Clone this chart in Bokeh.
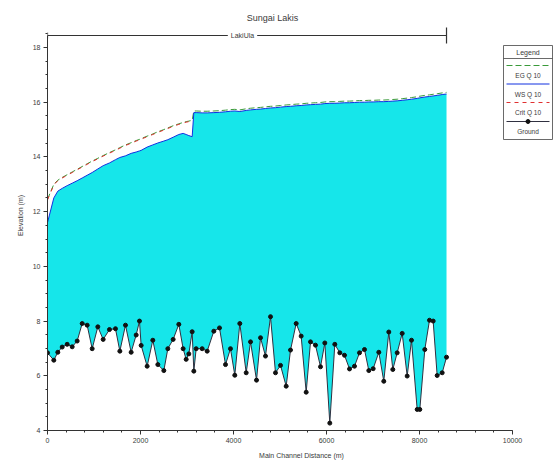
import math
from bokeh.plotting import figure
from bokeh.models import Range1d, Label, FixedTicker
from bokeh.embed import file_html
from bokeh.resources import INLINE

# ---------------- data ----------------
title_text = "Sungai Lakis"
reach_name = "LakiUla"
x_label = "Main Channel Distance (m)"
y_label = "Elevation (m)"
legend_labels = ["EG Q 10", "WS Q 10", "Crit Q 10", "Ground"]

x_ticks = [0, 2000, 4000, 6000, 8000, 10000]
y_ticks = [4, 6, 8, 10, 12, 14, 16, 18]

station = [0, 136, 222, 316, 423, 531, 638, 746, 853, 961,
           1082, 1197, 1333, 1462, 1556, 1677, 1799, 1907, 1978, 2014,
           2143, 2265, 2373, 2502, 2588, 2702, 2824, 2917, 2982, 3039,
           3111, 3147, 3197, 3326, 3434, 3577, 3699, 3828, 3935, 4028,
           4136, 4273, 4366, 4495, 4581, 4688, 4796, 4903, 5011, 5133,
           5226, 5348, 5455, 5563, 5656, 5763, 5871, 5964, 6071, 6179,
           6286, 6387, 6495, 6602, 6710, 6817, 6910, 7004, 7125, 7232,
           7340, 7426, 7520, 7628, 7735, 7828, 7950, 8007, 8114, 8215,
           8294, 8380, 8488, 8581]

ground = [6.84, 6.57, 6.86, 7.05, 7.15, 7.06, 7.27, 7.91, 7.85, 6.99,
          7.79, 7.33, 7.69, 7.72, 6.90, 7.85, 6.86, 7.49, 8.00, 7.11,
          6.35, 7.30, 6.41, 6.19, 6.99, 7.33, 7.88, 6.99, 6.60, 6.80,
          7.61, 6.17, 6.99, 6.99, 6.90, 7.63, 7.75, 6.41, 6.99, 6.02,
          7.91, 6.11, 7.24, 5.84, 7.39, 6.72, 8.16, 6.11, 6.38, 5.62,
          6.94, 7.91, 7.45, 5.40, 7.24, 7.12, 6.33, 7.20, 4.27, 7.15,
          6.84, 6.75, 6.25, 6.35, 6.84, 6.96, 6.19, 6.26, 6.86, 5.80,
          7.60, 6.23, 6.84, 7.55, 5.99, 7.30, 4.77, 4.77, 6.96, 8.03,
          8.00, 6.01, 6.11, 6.68]

ws = [11.60, 12.50, 12.75, 12.85, 12.95, 13.04, 13.13, 13.23, 13.33, 13.43,
      13.56, 13.68, 13.78, 13.90, 13.98, 14.04, 14.13, 14.18, 14.22, 14.24,
      14.36, 14.44, 14.51, 14.58, 14.63, 14.72, 14.82, 14.86, 14.82, 14.78,
      14.74, 15.62, 15.62, 15.61, 15.61, 15.62, 15.63, 15.65, 15.67, 15.68,
      15.66, 15.70, 15.72, 15.74, 15.75, 15.77, 15.79, 15.80, 15.82, 15.84,
      15.85, 15.87, 15.88, 15.90, 15.91, 15.92, 15.93, 15.95, 15.96, 15.96,
      15.97, 15.98, 15.98, 15.99, 16.00, 16.00, 16.01, 16.01, 16.02, 16.02,
      16.03, 16.04, 16.05, 16.07, 16.09, 16.11, 16.14, 16.16, 16.19, 16.21,
      16.23, 16.25, 16.28, 16.30]

eg = [12.45, 13.00, 13.15, 13.25, 13.35, 13.45, 13.55, 13.65, 13.75, 13.85,
      13.95, 14.05, 14.16, 14.26, 14.34, 14.44, 14.52, 14.60, 14.64, 14.67,
      14.76, 14.84, 14.92, 15.00, 15.06, 15.14, 15.21, 15.26, 15.29, 15.31,
      15.34, 15.68, 15.68, 15.67, 15.67, 15.68, 15.69, 15.71, 15.73, 15.74,
      15.72, 15.76, 15.78, 15.80, 15.81, 15.83, 15.85, 15.86, 15.88, 15.90,
      15.91, 15.93, 15.94, 15.96, 15.97, 15.98, 15.99, 16.01, 16.02, 16.02,
      16.03, 16.04, 16.04, 16.05, 16.06, 16.06, 16.07, 16.07, 16.08, 16.08,
      16.09, 16.10, 16.11, 16.13, 16.15, 16.17, 16.20, 16.22, 16.25, 16.27,
      16.29, 16.31, 16.34, 16.36]

nan = float("nan")
crit = [12.43, 12.98, 13.13, 13.23, 13.33, 13.43, 13.53, 13.63, 13.73, 13.83,
        13.93, 14.03, 14.14, 14.24, 14.32, 14.42, 14.50, 14.58, 14.62, 14.65,
        14.74, 14.82, 14.90, 14.98, 15.04, 15.12, 15.19, 15.24, 15.27, 15.29,
        15.32] + [nan] * 53

assert len(station) == len(ground) == len(ws) == len(eg) == len(crit)

# ---------------- layout helpers (page pixels -> data) ----------------
X0_PX, PX_PER_M = 47.0, 0.0465       # distance 0 at page x 47
Y0_PX, PX_PER_EL = 430.0, 27.357     # elevation 4 at page y 430

def X(px):
    return (px - X0_PX) / PX_PER_M

def Y(py):
    return 4 + (Y0_PX - py) / PX_PER_EL

FONT = "Liberation Sans"
TXT = "#3a3a3a"
CYAN = "#16E6EA"

p = figure(width=555, height=465, output_backend="svg", toolbar_location=None,
           x_range=Range1d(0, X(555)), y_range=Range1d(4, Y(0)),
           min_border_left=47, min_border_right=0, min_border_top=0,
           min_border_bottom=35)
p.outline_line_color = None
p.grid.visible = False
p.background_fill_color = "white"
p.border_fill_color = "white"

# axes
for ax in (p.xaxis, p.yaxis):
    ax.axis_line_color = "#333333"
    ax.major_tick_line_color = "#333333"
    ax.minor_tick_line_color = "#333333"
    ax.major_tick_out = 4
    ax.major_tick_in = 0
    ax.minor_tick_out = 2
    ax.minor_tick_in = 0
    ax.major_label_text_font = FONT
    ax.major_label_text_font_size = "7px"
    ax.major_label_text_color = TXT
    ax.axis_label_text_font = FONT
    ax.axis_label_text_font_size = "7px"
    ax.axis_label_text_font_style = "normal"
    ax.axis_label_text_color = TXT
    ax.major_label_standoff = 3
    ax.axis_label_standoff = 6

p.xaxis.ticker = FixedTicker(ticks=x_ticks, minor_ticks=list(range(0, 10001, 400)))
p.yaxis.ticker = FixedTicker(ticks=y_ticks, minor_ticks=[4 + 0.5 * i for i in range(30)])
p.xaxis.bounds = (x_ticks[0], x_ticks[-1])
p.yaxis.bounds = (y_ticks[0], Y(35))
p.xaxis.axis_label = x_label
p.yaxis.axis_label = y_label

# water between ground and water surface
p.varea(x=station, y1=ground, y2=ws, fill_color=CYAN)

# lines
p.line(station, eg, line_color="#3a9a3a", line_width=1, line_dash="6 3")
p.line(station, crit, line_color="#e03030", line_width=1, line_dash="4 5")
p.line(station, ws, line_color="#1030e0", line_width=1)
p.line(station, ground, line_color="#303040", line_width=1)
p.scatter(station, ground, marker="circle", size=4, fill_color="#111111",
          line_color="#111111")

# reach marker across the top
reach_y = Y(35)
p.segment(x0=[station[0]], y0=[reach_y], x1=[station[-1]], y1=[reach_y],
          line_color="#333333", line_width=1)
p.segment(x0=[station[-1], station[0]], y0=[Y(27), Y(32)],
          x1=[station[-1], station[0]], y1=[Y(43), Y(38)],
          line_color="#333333", line_width=1.2)
p.add_layout(Label(x=X(242), y=reach_y, text=reach_name, text_align="center",
                   text_baseline="middle", text_font=FONT, text_font_size="7px",
                   text_color=TXT, background_fill_color="white",
                   background_fill_alpha=1.0, padding=3))
p.add_layout(Label(x=X(272), y=Y(17), text=title_text, text_align="center",
                   text_baseline="middle", text_font=FONT, text_font_size="9px",
                   text_color=TXT))

# legend box
L, R = X(503), X(552)
p.quad(left=[L], right=[R], top=[Y(45)], bottom=[Y(139)], fill_color="white",
       line_color="#444444", line_width=0.8)
p.segment(x0=[L], y0=[Y(58)], x1=[R], y1=[Y(58)], line_color="#444444", line_width=0.8)
p.add_layout(Label(x=X(527.5), y=Y(51.5), text="Legend", text_align="center",
                   text_baseline="middle", text_font=FONT, text_font_size="7px",
                   text_color=TXT))

glyph_y = [65, 83.5, 102, 121]
label_y = [75, 93.5, 112, 131]
styles = [("#3a9a3a", "6 3"), ("#1030e0", "solid"), ("#e03030", "4 4"), ("#303040", "solid")]
for (col, dash), gy, ly, lab in zip(styles, glyph_y, label_y, legend_labels):
    p.segment(x0=[X(506)], y0=[Y(gy)], x1=[X(549)], y1=[Y(gy)],
              line_color=col, line_width=1, line_dash=dash)
    p.add_layout(Label(x=X(527.5), y=Y(ly), text=lab, text_align="center",
                       text_baseline="middle", text_font=FONT, text_font_size="6.5px",
                       text_color=TXT))
p.scatter([X(527.5)], [Y(glyph_y[-1])], marker="circle", size=4,
          fill_color="#111111", line_color="#111111")

open("out.html", "w").write(file_html(p, INLINE))
